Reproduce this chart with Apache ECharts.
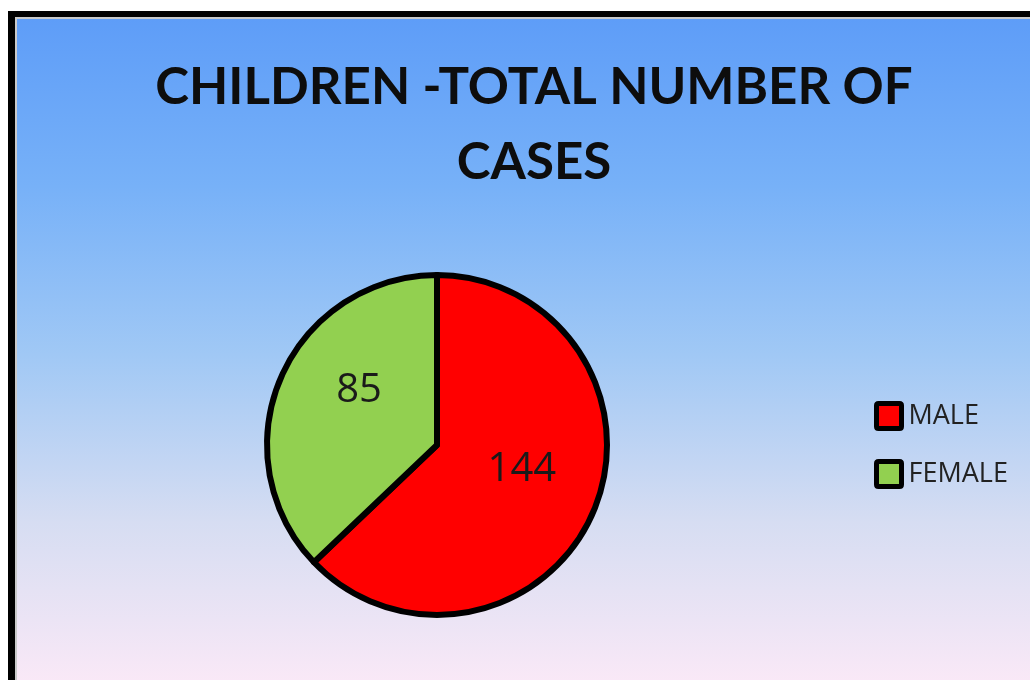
<!DOCTYPE html>
<html>
<head>
<meta charset="utf-8">
<script src="https://cdn.jsdelivr.net/npm/echarts@6/dist/echarts.min.js"></script>
<style>
html,body{margin:0;padding:0;background:#fff;}
#chart{width:1030px;height:680px;}
</style>
</head>
<body>
<div id="chart"></div>
<script>
// ---- data ----
const titleLines = ['CHILDREN -TOTAL NUMBER OF', 'CASES'];
const categories = ['MALE', 'FEMALE'];
const values = [144, 85];
const colors = ['#ff0000', '#92d050'];

const chart = echarts.init(document.getElementById('chart'), null, {renderer: 'canvas'});

const labelOffsets = [[4, -10], [3, -20]];

const option = {
  animation: false,
  backgroundColor: '#ffffff',
  graphic: [
    {type: 'rect', z: -10, shape: {x: 8, y: 11, width: 1030, height: 680}, style: {fill: '#000000'}},
    {type: 'rect', z: -9, shape: {x: 15, y: 17, width: 1030, height: 680}, style: {fill: '#c9c9c9'}},
    {type: 'rect', z: -8, shape: {x: 17, y: 19, width: 1020, height: 670},
      style: {fill: new echarts.graphic.LinearGradient(0, 0, 0, 1, [
        {offset: 0, color: '#5e9df8'},
        {offset: 0.25, color: '#77b1f8'},
        {offset: 0.5, color: '#a0c8f5'},
        {offset: 0.75, color: '#d6ddf2'},
        {offset: 1, color: '#fbe9f7'}
      ])}}
  ],
  title: {
    text: titleLines.join('\n'),
    left: 529,
    textAlign: 'center',
    top: 45,
    textStyle: {
      fontFamily: 'Lato',
      fontWeight: 'bold',
      fontSize: 51,
      lineHeight: 75,
      color: '#0d0d0d'
    }
  },
  legend: {
    orient: 'vertical',
    left: 869,
    top: 396,
    itemWidth: 25,
    itemHeight: 25,
    itemGap: 28,
    icon: 'path://M2,0 L23,0 Q25,0 25,2 L25,23 Q25,25 23,25 L2,25 Q0,25 0,23 L0,2 Q0,0 2,0 Z',
    itemStyle: {borderColor: '#000000', borderWidth: 5},
    textStyle: {fontFamily: 'Open Sans', fontSize: 27, color: '#222222', padding: [0, 0, 0, 2]},
    data: categories
  },
  series: [{
    type: 'pie',
    center: [437, 445],
    radius: 170,
    startAngle: 90,
    clockwise: true,
    avoidLabelOverlap: false,
    itemStyle: {borderColor: '#000000', borderWidth: 6},
    label: {
      show: true,
      position: 'inside',
      formatter: '{c}',
      fontFamily: 'Open Sans',
      fontSize: 40,
      color: '#1a1a1a'
    },
    labelLine: {show: false},
    emphasis: {disabled: true},
    data: categories.map((name, i) => ({
      name: name,
      value: values[i],
      itemStyle: {color: colors[i]},
      label: {offset: labelOffsets[i]}
    }))
  }]
};
chart.setOption(option);
</script>
</body>
</html>
